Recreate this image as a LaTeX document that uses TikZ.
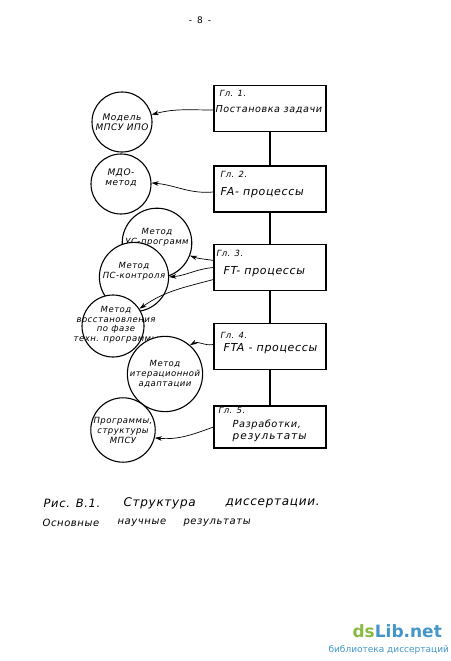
\documentclass[tikz,border=0pt]{standalone}
\usepackage{fontspec}
\setmainfont{DejaVu Sans}
\newfontfamily\handfont[LetterSpace=6]{DejaVu Sans}
\usepackage{xcolor}
\usetikzlibrary{arrows.meta}
\definecolor{libgreen}{RGB}{139,186,68}
\definecolor{libblue}{RGB}{66,150,200}

\begin{document}
\begin{tikzpicture}[x=1pt,y=-1pt,line width=1.1pt,
  chbox/.style={draw, minimum width=112pt, minimum height=46pt, inner sep=0pt},
  mcirc/.style={draw, circle, fill=white, minimum size=60pt, inner sep=0pt, align=center, font=\fontsize{8.5}{10}\selectfont\handfont\itshape},
  glab/.style={anchor=west, inner sep=0pt, font=\fontsize{8.5}{10}\selectfont\handfont\itshape},
  gtitle/.style={anchor=west, inner sep=0pt, font=\fontsize{11}{12}\selectfont\handfont\itshape},
  captext/.style={anchor=west, inner sep=0pt, font=\fontsize{12}{14}\selectfont\handfont\itshape},
  link/.style={-{Stealth[length=2.5mm,width=1.6mm]}, line width=0.7pt}]
  \useasboundingbox (0,0) rectangle (450,661);

  % page number
  \node[font=\fontsize{9}{10}\selectfont] (pg) at (200,20) {-\hspace{5pt}8\hspace{5pt}-};

  % chapters
  \node[chbox] (g1) at (270,108.5) {};
  \node[chbox] (g2) at (270,189) {};
  \node[chbox] (g3) at (270,267.5) {};
  \node[chbox] (g4) at (270,346.5) {};
  \node[chbox, minimum height=42pt] (g5) at (270,427) {};
  \draw (g1) -- (g2);
  \draw (g2) -- (g3);
  \draw (g3) -- (g4);
  \draw (g4) -- (g5);

  \node[glab] (g1n) at (219,93) {Гл. 1.};
  \node[gtitle, font=\fontsize{9.6}{11}\selectfont\handfont\itshape] (g1t) at (215,110) {Постановка задачи};
  \node[glab] (g2n) at (220,174) {Гл. 2.};
  \node[gtitle] (g2t) at (220,193) {FA- процессы};
  \node[glab] (g3n) at (216,253) {Гл. 3.};
  \node[gtitle] (g3t) at (223,272) {FT- процессы};
  \node[glab] (g4n) at (220,335) {Гл. 4.};
  \node[gtitle] (g4t) at (223,349) {FTA - процессы};
  \node[glab] (g5n) at (218,410) {Гл. 5.};
  \node[gtitle, font=\fontsize{9.8}{11}\selectfont\handfont\itshape] (g5t) at (232,425) {Разработки,};
  \node[gtitle, font=\fontsize{10.5}{11}\selectfont\handfont\itshape\addfontfeature{LetterSpace=10}] (g5u) at (232,438) {результаты};

  % methods and results
  \node[mcirc, font=\fontsize{9}{10}\selectfont\handfont\itshape] (m1) at (122,122) {Модель\\МПСУ ИПО};
  \node[mcirc, font=\fontsize{9}{10}\selectfont\handfont\itshape] (m2) at (121,184) {МДО-\\метод\\[3pt]};
  \node[mcirc, minimum size=56pt] (m3) at (157,243) {Метод\\УС-программ\\[3pt]};
  \node[mcirc] (m4) at (134,277) {Метод\\ПС-контроля\\[4pt]};
  \node[mcirc, minimum size=62pt] (m5) at (113,326) {};
  \node[font=\fontsize{8.5}{9.5}\selectfont\handfont\itshape, align=center, inner sep=0pt] (m5t) at (116,325) {Метод\\восстановления\\по фазе\\техн. программы};
  \node[mcirc] (m6) at (165,374) {Метод\\итерационной\\адаптации};
  \node[mcirc] (m7) at (123,430) {Программы,\\структуры\\МПСУ};

  \draw[link] ([yshift=-1.5pt]g1.west) to[out=180,in=15] (m1.14);
  \draw[link] ([yshift=-3pt]g2.west) to[out=185,in=-5] (m2.2);
  \draw[link] ([yshift=7pt]g3.west) to[out=170,in=-20] (m3.-21);
  \draw[link] (g3.west) to[out=185,in=5] (m4.east);
  \draw[link] ([yshift=-12pt]g3.west) to[out=195,in=35] (m5.33);
  \draw[link] ([yshift=2pt]g4.west) to[out=190,in=30] (m6.49);
  \draw[link] (g5.west) to[out=200,in=-5] (m7.-14);

  % caption
  \node[captext, font=\fontsize{11.5}{14}\selectfont\handfont\itshape] (cap1) at (43,503) {Рис. В.1.};
  \node[captext] (cap2) at (123,503) {Структура};
  \node[captext] (cap3) at (225,503) {диссертации.};
  \node[captext, font=\fontsize{10}{12}\selectfont\handfont\itshape] (cap4) at (42,523) {Основные};
  \node[captext, font=\fontsize{10}{12}\selectfont\handfont\itshape] (cap5) at (117,523) {научные};
  \node[captext, font=\fontsize{10}{12}\selectfont\handfont\itshape] (cap6) at (183,523) {результаты};

  % watermark
  \node[anchor=west, inner sep=0pt, font=\fontsize{17}{18}\selectfont\bfseries] (wm1) at (352,631) {\textcolor{libgreen}{ds}\textcolor{libblue}{Lib.net}};
  \node[anchor=west, inner sep=0pt, text=libblue, font=\fontsize{9}{10}\selectfont] (wm2) at (328,650) {библиотека диссертаций};
\end{tikzpicture}
\end{document}
